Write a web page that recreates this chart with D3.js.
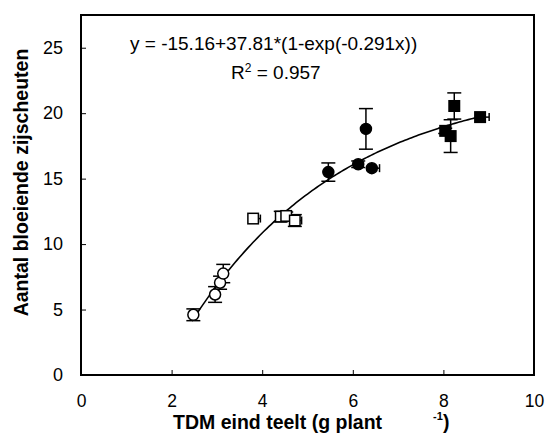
<!DOCTYPE html>
<html>
<head>
<meta charset="utf-8">
<script src="https://cdn.jsdelivr.net/npm/d3@7/dist/d3.min.js"></script>
<style>
  html, body { margin: 0; padding: 0; background: #fff; }
  svg { display: block; }
  text { font-family: Arial, "Liberation Sans", sans-serif; fill: #000; }
</style>
</head>
<body>
<svg id="chart" width="547" height="441"></svg>
<script>
// Axis ticks
const xTicks = [0, 2, 4, 6, 8, 10];
const yTicks = [0, 5, 10, 15, 20, 25];

// Open circles
const openCircleX = [2.48, 2.96, 3.07, 3.14];
const openCircleY = [4.6, 6.15, 7.05, 7.75];
const openCircleYErr = [0.45, 0.6, 0.5, 0.7];

// Open squares
const openSquareX = [3.80, 4.41, 4.53, 4.72];
const openSquareY = [11.95, 12.1, 12.15, 11.8];
const openSquareYErr = [0, 0.4, 0.3, 0.45];
const openSquareXErr = [0.16, 0, 0, 0.15];

// Filled circles
const filledCircleX = [5.46, 6.12, 6.29, 6.42];
const filledCircleY = [15.5, 16.1, 18.8, 15.8];
const filledCircleYErr = [0.7, 0.25, 1.55, 0];
const filledCircleXErr = [0, 0, 0, 0.17];

// Filled squares
const filledSquareX = [8.04, 8.16, 8.24, 8.81];
const filledSquareY = [18.65, 18.25, 20.55, 19.7];
const filledSquareYErr = [0.2, 1.25, 1.0, 0];
const filledSquareXErr = [0, 0, 0, 0.2];

// Fitted curve y = a + b*(1 - exp(c*x))
const fitA = -15.16, fitB = 37.81, fitC = -0.291;
const fitRange = [2.45, 8.8];

const svg = d3.select("#chart");
const plotL = 81, plotT = 15, plotR = 534, plotB = 375;

const x = d3.scaleLinear().domain([0, 10]).range([plotL, plotR]);
const y = d3.scaleLinear().domain([0, 27.5]).range([plotB, plotT]);

// Axes with inward ticks
svg.append("g")
  .attr("transform", `translate(0,${plotB})`)
  .call(d3.axisBottom(x).tickValues(xTicks).tickSizeInner(-5).tickSizeOuter(0).tickPadding(19.5))
  .call(g => g.select(".domain").remove())
  .call(g => g.selectAll("line").attr("stroke", "#000"))
  .call(g => g.selectAll("text").attr("font-size", 17.5).attr("dy", "0.71em"));

svg.append("g")
  .attr("transform", `translate(${plotL},0)`)
  .call(d3.axisLeft(y).tickValues(yTicks).tickSizeInner(-5).tickSizeOuter(0).tickPadding(18))
  .call(g => g.select(".domain").remove())
  .call(g => g.selectAll("line").attr("stroke", "#000"))
  .call(g => g.selectAll("text").attr("font-size", 18));

// Frame
svg.append("rect")
  .attr("x", plotL).attr("y", plotT)
  .attr("width", plotR - plotL).attr("height", plotB - plotT)
  .attr("fill", "none").attr("stroke", "#000").attr("stroke-width", 2);

// Fitted curve
const fitPts = d3.range(fitRange[0], fitRange[1] + 1e-9, 0.05)
  .map(v => [v, fitA + fitB * (1 - Math.exp(fitC * v))]);
svg.append("path")
  .datum(fitPts)
  .attr("fill", "none").attr("stroke", "#000").attr("stroke-width", 1.6)
  .attr("d", d3.line().x(d => x(d[0])).y(d => y(d[1])));

function series(xs, ys, yErr, xErr) {
  return xs.map((v, i) => ({ x: v, y: ys[i], ey: yErr ? yErr[i] : 0, ex: xErr ? xErr[i] : 0 }));
}

const groups = [
  { data: series(openCircleX, openCircleY, openCircleYErr, null), shape: "circle", fill: "#fff" },
  { data: series(openSquareX, openSquareY, openSquareYErr, openSquareXErr), shape: "square", fill: "#fff" },
  { data: series(filledCircleX, filledCircleY, filledCircleYErr, filledCircleXErr), shape: "circle", fill: "#000" },
  { data: series(filledSquareX, filledSquareY, filledSquareYErr, filledSquareXErr), shape: "square", fill: "#000" }
];

// Error bars: vertical with caps, horizontal drawn on the plus side only
const cap = 7;
const errG = svg.append("g").attr("stroke", "#000").attr("stroke-width", 1.5);
groups.forEach(gr => {
  gr.data.forEach(d => {
    if (d.ey > 0) {
      const y1 = y(d.y - d.ey), y2 = y(d.y + d.ey), cx = x(d.x);
      errG.append("line").attr("x1", cx).attr("x2", cx).attr("y1", y1).attr("y2", y2);
      errG.append("line").attr("x1", cx - cap).attr("x2", cx + cap).attr("y1", y1).attr("y2", y1);
      errG.append("line").attr("x1", cx - cap).attr("x2", cx + cap).attr("y1", y2).attr("y2", y2);
    }
    if (d.ex > 0) {
      const x2 = x(d.x + d.ex), cy = y(d.y);
      errG.append("line").attr("x1", x(d.x)).attr("x2", x2).attr("y1", cy).attr("y2", cy);
      errG.append("line").attr("x1", x2).attr("x2", x2).attr("y1", cy - 4).attr("y2", cy + 4);
    }
  });
});

const mk = svg.append("g");
groups.forEach(gr => {
  if (gr.shape === "circle") {
    mk.selectAll(null).data(gr.data).enter().append("circle")
      .attr("cx", d => x(d.x)).attr("cy", d => y(d.y)).attr("r", 5.5)
      .attr("fill", gr.fill).attr("stroke", "#000").attr("stroke-width", 1.5);
  } else {
    const s = 10.5;
    mk.selectAll(null).data(gr.data).enter().append("rect")
      .attr("x", d => x(d.x) - s / 2).attr("y", d => y(d.y) - s / 2)
      .attr("width", s).attr("height", s)
      .attr("fill", gr.fill).attr("stroke", "#000").attr("stroke-width", 1.5);
  }
});

// Equation and fit quality
svg.append("text").attr("x", 130).attr("y", 50).attr("font-size", 19)
  .text("y = -15.16+37.81*(1-exp(-0.291x))");
const r2 = svg.append("text").attr("x", 231).attr("y", 79).attr("font-size", 19);
r2.append("tspan").text("R");
r2.append("tspan").attr("font-size", 12).attr("dy", -7).text("2");
r2.append("tspan").attr("dy", 7).text(" = 0.957");

// Axis titles
svg.append("text").attr("x", 173).attr("y", 429)
  .attr("font-size", 19.5).attr("font-weight", "bold").text("TDM eind teelt (g plant");
svg.append("text").attr("x", 433).attr("y", 420)
  .attr("font-size", 11).attr("font-weight", "bold").text("-1");
svg.append("text").attr("x", 443).attr("y", 429)
  .attr("font-size", 19.5).attr("font-weight", "bold").text(")");

svg.append("text")
  .attr("transform", "translate(28,182.5) rotate(-90)")
  .attr("text-anchor", "middle")
  .attr("font-size", 19.5).attr("font-weight", "bold")
  .text("Aantal bloeiende zijscheuten");
</script>
</body>
</html>
